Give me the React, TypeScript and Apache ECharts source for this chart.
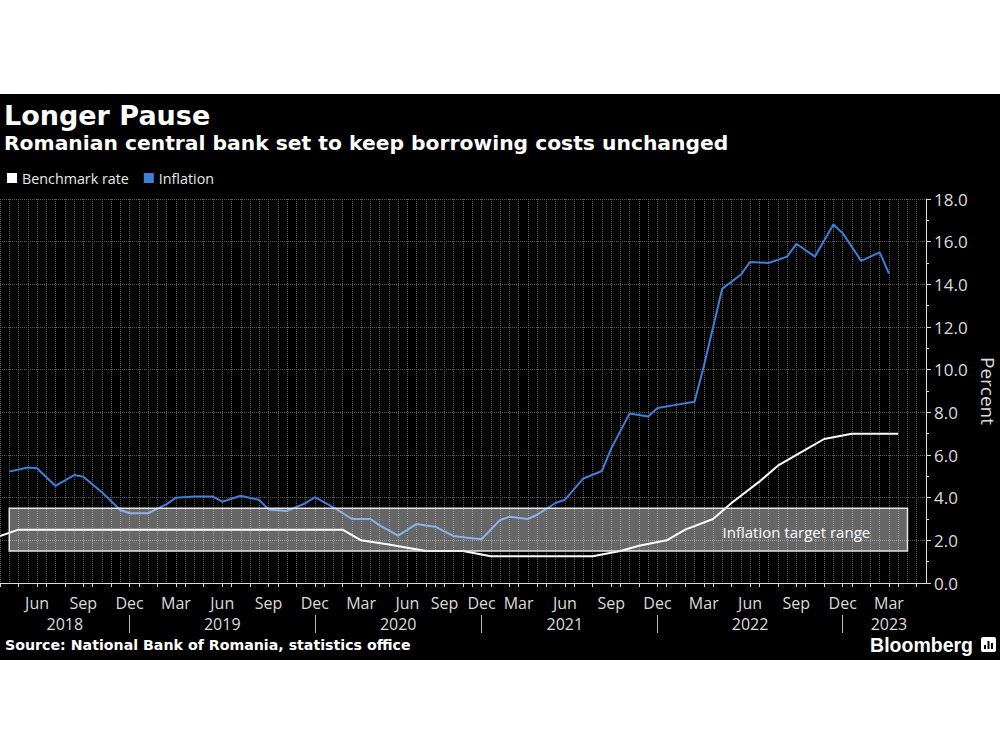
import React, { useEffect, useRef } from "react";
import * as echarts from "echarts";

// One category per observation date (monthly CPI prints + NBR policy meeting dates)
const categories: string[] = [
  "2018-04-04", "2018-04-30", "2018-05-07", "2018-05-31", "2018-06-30", "2018-07-04", "2018-07-31", "2018-08-03",
  "2018-08-31", "2018-09-30", "2018-10-02", "2018-10-31", "2018-11-07", "2018-11-30", "2018-12-31", "2019-01-09",
  "2019-01-31", "2019-02-07", "2019-02-28", "2019-03-31", "2019-04-04", "2019-04-30", "2019-05-15", "2019-05-31",
  "2019-06-30", "2019-07-03", "2019-07-31", "2019-08-06", "2019-08-31", "2019-09-30", "2019-10-02", "2019-10-31",
  "2019-11-07", "2019-11-30", "2019-12-31", "2020-01-09", "2020-01-31", "2020-02-07", "2020-02-29", "2020-03-20",
  "2020-03-31", "2020-04-30", "2020-05-29", "2020-05-31", "2020-06-10", "2020-06-30", "2020-07-31", "2020-08-31",
  "2020-09-10", "2020-09-30", "2020-10-31", "2020-11-30", "2020-12-31", "2021-01-15", "2021-01-31", "2021-02-28",
  "2021-03-10", "2021-03-31", "2021-04-30", "2021-05-12", "2021-05-31", "2021-06-30", "2021-07-07", "2021-07-31",
  "2021-08-05", "2021-08-31", "2021-09-30", "2021-10-05", "2021-10-31", "2021-11-09", "2021-11-30", "2021-12-31",
  "2022-01-11", "2022-01-31", "2022-02-09", "2022-02-28", "2022-03-31", "2022-04-06", "2022-04-30", "2022-05-10",
  "2022-05-31", "2022-06-30", "2022-07-06", "2022-07-31", "2022-08-05", "2022-08-31", "2022-09-30", "2022-10-05",
  "2022-10-31", "2022-11-08", "2022-11-30", "2022-12-31", "2023-01-10", "2023-01-31", "2023-02-14", "2023-02-28",
  "2023-03-31", "2023-04-05", "2023-04-30", "2023-05-10", "2023-05-31",
];

const inflation: (number | null)[] = [
  null, 5.22, null, 5.41, 5.38, null, 4.55, null,
  5.06, 4.98, null, 4.25, null, 3.42, 3.27, null,
  3.27, null, 3.7, 4.0, null, 4.05, null, 4.05,
  3.81, null, 4.09, null, 3.89, 3.45, null, 3.38,
  null, 3.74, 4.02, null, 3.55, null, 3.0, null,
  3.0, 2.7, null, 2.22, null, 2.77, 2.7, 2.64,
  null, 2.2, 2.15, 2.1, 2.05, null, 2.95, 3.1,
  null, 3.0, 3.2, null, 3.75, 3.9, null, 4.9,
  null, 5.25, 6.3, null, 7.95, null, 7.8, 8.2,
  null, 8.35, null, 8.5, 10.15, null, 13.8, null,
  14.45, 15.05, null, 15.0, null, 15.3, 15.9, null,
  15.3, null, 16.8, 16.4, null, 15.1, null, 15.5,
  14.5, null, null, null, null,
];

const benchmarkRate: (number | null)[] = [
  2.2, null, 2.5, null, null, 2.5, null, 2.5,
  null, null, 2.5, null, 2.5, null, null, 2.5,
  null, 2.5, null, null, 2.5, null, 2.5, null,
  null, 2.5, null, 2.5, null, null, 2.5, null,
  2.5, null, null, 2.5, null, 2.5, null, 2.0,
  null, null, 1.8, null, 1.65, null, 1.5, null,
  1.5, null, 1.5, null, null, 1.25, null, null,
  1.25, null, null, 1.25, null, null, 1.25, null,
  1.25, null, null, 1.5, null, 1.75, null, null,
  2.0, null, 2.5, null, null, 3.0, null, 3.75,
  null, null, 4.75, null, 5.5, null, null, 6.25,
  null, 6.75, null, null, 7.0, null, 7.0, null,
  null, 7.0, null, null, null,
];

const targetRange = [1.5, 3.5];
const targetStart = "2018-04-30";
const targetEnd = "2023-04-30";
const monthNames = ["Jan", "Feb", "Mar", "Apr", "May", "Jun", "Jul", "Aug", "Sep", "Oct", "Nov", "Dec"];

const BLUE = "#3d80da";
const AXIS = "#dcdcdc";
const GRID = "#5e5e5e";

export default function App() {
  const ref = useRef<HTMLDivElement>(null);

  useEffect(() => {
    const chart = echarts.init(ref.current!, null, { renderer: "svg" });

    const month = (s: string) => parseInt(s.slice(5, 7), 10);
    const isMonthStart = (i: number) => i === 0 || month(categories[i - 1]) !== month(categories[i]);
    const isQuarterLabel = (i: number) => month(categories[i]) % 3 === 0 && isMonthStart(i);
    const quarterIdx = categories.map((_, i) => i).filter((i) => isQuarterLabel(i));
    const sepIdx = categories.map((_, i) => i).filter((i) => month(categories[i]) === 12 && isMonthStart(i));
    const sepSet = new Set(sepIdx);
    const years = Array.from(new Set(categories.map((c) => c.slice(0, 4))));
    const yearMid: Record<number, string> = {};
    years.forEach((y) => {
      const prev = sepIdx.filter((i) => categories[i].slice(0, 4) < y).pop();
      const own = sepIdx.find((i) => categories[i].slice(0, 4) === y);
      if (own === undefined) {
        // incomplete final year: centre under its last quarter label
        const last = quarterIdx.filter((i) => categories[i].slice(0, 4) === y).pop();
        if (last !== undefined) yearMid[last] = y;
        return;
      }
      const s = prev === undefined ? 0 : prev;
      yearMid[Math.floor((s + own) / 2)] = y;
    });

    chart.setOption({
      animation: false,
      backgroundColor: "#000",
      textStyle: { fontFamily: "Open Sans" },
      title: [
        {
          text: "Longer Pause",
          left: 4,
          top: 102,
          padding: 0,
          textStyle: { color: "#fff", fontSize: 27, fontWeight: "bold", fontFamily: "DejaVu Sans" },
        },
        {
          text: "Romanian central bank set to keep borrowing costs unchanged",
          left: 4,
          top: 133,
          padding: 0,
          textStyle: { color: "#fff", fontSize: 20.3, fontWeight: "bold", fontFamily: "DejaVu Sans" },
        },
        {
          text: "Source: National Bank of Romania, statistics office",
          left: 5,
          top: 638,
          padding: 0,
          textStyle: { color: "#fff", fontSize: 14.2, fontWeight: "bold", fontFamily: "DejaVu Sans" },
        },
      ],
      legend: {
        left: 7,
        top: 171,
        padding: 0,
        icon: "rect",
        itemWidth: 10,
        itemHeight: 10,
        itemGap: 15,
        textStyle: { color: "#e8e8e8", fontSize: 14.3, fontFamily: "Open Sans" },
        data: ["Benchmark rate", "Inflation"],
      },
      grid: { left: 0, right: 74, top: 199, bottom: 167, containLabel: false, outerBoundsMode: "none" },
      xAxis: [
        {
          type: "category",
          data: categories,
          boundaryGap: false,
          offset: 8,
          axisLine: { show: true, lineStyle: { color: AXIS, width: 1 } },
          axisTick: { show: true, interval: (i: number) => isMonthStart(i), length: 4, lineStyle: { color: AXIS } },
          axisLabel: {
            interval: (i: number) => isQuarterLabel(i),
            formatter: (v: string) => monthNames[month(v) - 1],
            color: AXIS,
            fontSize: 16,
            lineHeight: 16,
            margin: 4,
          },
          splitLine: { show: true, interval: 0, lineStyle: { color: GRID, type: "dotted", width: 1 } },
        },
        {
          type: "category",
          data: categories,
          boundaryGap: false,
          position: "bottom",
          offset: 32,
          axisLine: { show: false },
          axisTick: { show: true, interval: (i: number) => sepSet.has(i), length: 18, lineStyle: { color: "#bbb" } },
          axisLabel: {
            interval: (i: number) => yearMid[i] !== undefined,
            formatter: (v: string) => v.slice(0, 4),
            color: AXIS,
            fontSize: 16,
            lineHeight: 16,
            margin: 1,
          },
          splitLine: { show: false },
        },
      ],
      yAxis: {
        type: "value",
        position: "right",
        min: 0,
        max: 18,
        interval: 2,
        axisLine: { show: true, lineStyle: { color: AXIS, width: 1 } },
        axisTick: { show: true, length: 5, lineStyle: { color: AXIS } },
        minorTick: { show: true, splitNumber: 2, length: 3, lineStyle: { color: AXIS } },
        axisLabel: { color: AXIS, fontSize: 17, margin: 8, formatter: (v: number) => v.toFixed(1) },
        splitLine: { show: true, lineStyle: { color: GRID, type: "dotted", width: 1 } },
        name: "Percent",
        nameLocation: "middle",
        nameRotate: -90,
        nameGap: 48,
        nameTextStyle: { color: AXIS, fontSize: 19 },
      },
      series: [
        {
          name: "Benchmark rate",
          type: "line",
          data: benchmarkRate,
          connectNulls: true,
          symbol: "none",
          lineStyle: { color: "#fff", width: 2 },
          itemStyle: { color: "#fff" },
          z: 2,
        },
        {
          name: "Inflation",
          type: "line",
          data: inflation,
          connectNulls: true,
          symbol: "none",
          lineStyle: { color: BLUE, width: 2 },
          itemStyle: { color: BLUE },
          z: 2,
          markArea: {
            z: 5,
            silent: true,
            itemStyle: { color: "rgba(255,255,255,0.4)", borderColor: "#e6e6e6", borderWidth: 1.5 },
            label: {
              show: true,
              position: "insideRight",
              distance: 38,
              offset: [0, 2],
              color: "#fff",
              fontSize: 15,
              fontFamily: "Open Sans",
            },
            data: [
              [
                { name: "Inflation target range", xAxis: targetStart, yAxis: targetRange[0] },
                { xAxis: targetEnd, yAxis: targetRange[1] },
              ],
            ],
          },
        },
      ],
      graphic: [
        { type: "rect", z: 100, shape: { x: 0, y: 0, width: 1000, height: 94 }, style: { fill: "#fff" } },
        { type: "rect", z: 100, shape: { x: 0, y: 660, width: 1000, height: 90 }, style: { fill: "#fff" } },
        {
          type: "text",
          z: 100,
          x: 973,
          y: 645,
          style: {
            text: "Bloomberg",
            fill: "#fff",
            font: "bold 19.5px 'Liberation Sans', Arial, sans-serif",
            align: "right",
            verticalAlign: "middle",
          },
        },
        {
          type: "group",
          z: 100,
          x: 981,
          y: 637,
          children: [
            { type: "rect", shape: { x: 0, y: 0, width: 15, height: 15, r: 2 }, style: { fill: "#fff" } },
            { type: "rect", shape: { x: 3, y: 8, width: 2, height: 4 }, style: { fill: "#000" } },
            { type: "rect", shape: { x: 6.5, y: 4, width: 2, height: 8 }, style: { fill: "#000" } },
            { type: "rect", shape: { x: 10, y: 6, width: 2, height: 6 }, style: { fill: "#000" } },
          ],
        },
      ],
    });

    return () => chart.dispose();
  }, []);

  return (
    <div
      ref={ref}
      style={{ position: "absolute", left: 0, top: 0, width: 1000, height: 750 }}
    />
  );
}
